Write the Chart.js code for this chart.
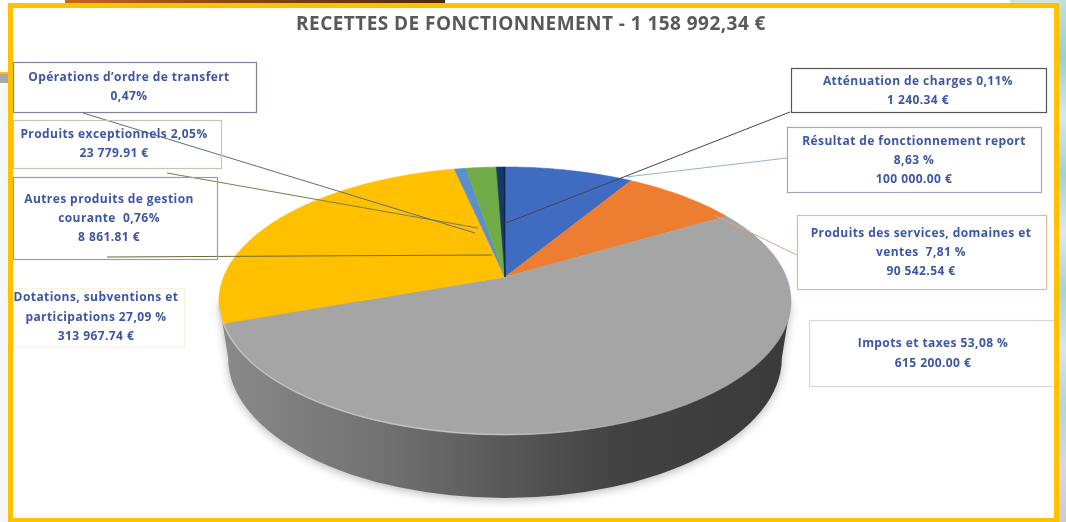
<!DOCTYPE html>
<html lang="fr">
<head>
<meta charset="utf-8">
<title>Recettes de fonctionnement</title>
<script src="https://cdn.jsdelivr.net/npm/chart.js@4"></script>
<style>
html,body{margin:0;padding:0;background:#fff;overflow:hidden}
#wrap{position:absolute;left:0;top:0;width:1066px;height:522px}
canvas{filter:blur(.65px)}
</style>
</head>
<body>
<div id="wrap"><canvas id="c" width="1066" height="522"></canvas></div>
<script>
const titleText = 'RECETTES DE FONCTIONNEMENT - 1 158 992,34 €';
const categories = ['Résultat de fonctionnement report','Produits des services, domaines et ventes','Impots et taxes','Dotations, subventions et participations','Autres produits de gestion courante','Produits exceptionnels','Opérations d’ordre de transfert','Atténuation de charges'];
const amounts = [100000.00, 90542.54, 615200.00, 313967.74, 8861.81, 23779.91, 5400.00, 1240.34];
const sliceColors = ['#3f6cc0','#ed7d31','#a5a5a5','#ffc000','#5b8fd0','#70ad47','#163a66','#0d2240'];

const calloutLines = [
  ['Résultat de fonctionnement report','8,63 %','100 000.00 €'],
  ['Produits des services, domaines et','ventes  7,81 %','90 542.54 €'],
  ['Impots et taxes 53,08 %','615 200.00 €'],
  ['Dotations, subventions et','participations 27,09 %','313 967.74 €'],
  ['Autres produits de gestion','courante  0,76%','8 861.81 €'],
  ['Produits exceptionnels 2,05%','23 779.91 €'],
  ['Opérations d’ordre de transfert','0,47%'],
  ['Atténuation de charges 0,11%','1 240.34 €']
];
// [left, top, right, bottom, text centre x, first line y, line step, border colour]
const calloutBoxes = [
  [787,127,1041,192,914,142,19,'#9aa9bc'],
  [797,215,1046,289,921,234,19,'#e3b79c'],
  [809,320,1055,386,933,344,20,'#d5d8db'],
  [13,288,184,347,96,298,19.5,'#f8f2de'],
  [13,177,217,259,109,200,19,'#8a9fc3'],
  [13,120,221,168,114,135,19,'#c3c8b2'],
  [13,62,256,112,129,78,19,'#7a8597'],
  [791,68,1046,112,918,82,19,'#555555']
];
// leader lines: x1,y1,x2,y2, colour
const leaders = [
  [787,158,626,177,'#8fb3d6'],
  [797,255,714,215,'#d9a583'],
  [107,257,492,255,'#6f6a3c'],
  [167,173,478,228,'#7b7a50'],
  [83,113,475,233,'#5f6d80'],
  [790,112,506,223,'#3f4650']
];

// perspective of the pie's top face
const K = 0.179, SX = 2.558, SY = 1.179;
const DEPTH = 57, BOTTOM_SHRINK = 0.968, BOTTOM_RY = 1.045;
function project(el, a, R){
  const x = Math.cos(a), y = Math.sin(a), w = 1 - K * y;
  return [el.x + SX * R * x / w, el.y + SY * R * y / w];
}
function faceEllipse(el, R){
  const q = 1 - K * K;
  return {cx: el.x, cy: el.y + SY * R * K / q, rx: SX * R / Math.sqrt(q), ry: SY * R / q};
}
// arcs are drawn in perspective from the angles Chart.js computed
Chart.ArcElement.prototype.draw = function(ctx){
  const p = this.getProps(['x','y','startAngle','endAngle','outerRadius'], true);
  const steps = Math.max(4, Math.ceil((p.endAngle - p.startAngle) * 60));
  ctx.save();
  ctx.beginPath();
  ctx.moveTo(p.x, p.y);
  for (let i = 0; i <= steps; i++) {
    const a = p.startAngle + (p.endAngle - p.startAngle) * i / steps;
    const q = project(p, a, p.outerRadius);
    ctx.lineTo(q[0], q[1]);
  }
  ctx.closePath();
  ctx.fillStyle = this.options.backgroundColor;
  ctx.strokeStyle = this.options.backgroundColor;
  ctx.lineWidth = 0.6;
  ctx.fill();
  ctx.stroke();
  ctx.restore();
};

const deco = {
  id: 'deco',
  beforeDraw(chart){
    const c = chart.ctx;
    c.save();
    c.fillStyle = '#fff'; c.fillRect(0,0,1066,522);
    // page behind the framed picture
    c.fillStyle = '#f6f8f8'; c.fillRect(0,78,8,444);
    c.fillStyle = '#ffc000'; c.fillRect(0,72,8,2);
    c.fillStyle = '#a9a9a9'; c.fillRect(0,74,8,9);
    const g = c.createLinearGradient(0,0,0,522);
    ['#bfe0da','#9fcfc8','#d8e8e5','#a5d2cb','#dfe9e7','#a9d3cd','#d9e6e4','#b5d6d1','#d5dada','#c9cccc'].forEach((s,i)=>g.addColorStop(i/9,s));
    c.fillStyle = g; c.fillRect(1059,0,7,522);
    const b = c.createLinearGradient(65,0,445,0);
    b.addColorStop(0,'#c8651c'); b.addColorStop(.4,'#8a4a14'); b.addColorStop(1,'#4a2a0c');
    c.fillStyle = b; c.fillRect(65,0,380,3);
    c.fillStyle = '#cfe6e0'; c.fillRect(1010,0,49,3);
    c.restore();
  },
  beforeDatasetsDraw(chart){
    const el = chart.getDatasetMeta(0).data[0], c = chart.ctx;
    const p = el.getProps(['x','y','outerRadius'], true);
    const t = faceEllipse(p, p.outerRadius);
    const bx = t.rx * BOTTOM_SHRINK, by = t.ry * BOTTOM_RY, bc = t.cy + DEPTH;
    const g = c.createLinearGradient(t.cx - t.rx, 0, t.cx + t.rx, 0);
    g.addColorStop(0,'#8a8a8a'); g.addColorStop(.3,'#707070');
    g.addColorStop(.5,'#585858'); g.addColorStop(.7,'#424242'); g.addColorStop(1,'#3a3a3a');
    c.save();
    c.shadowColor = 'rgba(0,0,0,.28)'; c.shadowBlur = 10; c.shadowOffsetY = 2;
    c.fillStyle = g;
    c.beginPath();
    c.moveTo(t.cx - t.rx, t.cy);
    c.lineTo(t.cx - bx, bc);
    c.ellipse(t.cx, bc, bx, by, 0, Math.PI, 0, true);
    c.lineTo(t.cx + t.rx, t.cy);
    c.closePath();
    c.fill();
    c.restore();
  },
  afterDatasetsDraw(chart){
    const el = chart.getDatasetMeta(0).data[0], c = chart.ctx;
    const p = el.getProps(['x','y','outerRadius'], true);
    const t = faceEllipse(p, p.outerRadius);
    const g = c.createLinearGradient(t.cx - t.rx, 0, t.cx + t.rx, 0);
    g.addColorStop(0,'rgba(205,205,205,.75)'); g.addColorStop(.5,'rgba(200,200,200,.8)');
    g.addColorStop(.72,'rgba(190,190,190,.25)'); g.addColorStop(1,'rgba(170,170,170,.0)');
    c.save();
    c.strokeStyle = g; c.lineWidth = 1.4;
    c.beginPath();
    c.ellipse(t.cx, t.cy, t.rx - .5, t.ry - .5, 0, 0, Math.PI * .98);
    c.stroke();
    // leader lines
    c.lineWidth = 1;
    leaders.forEach(l => {
      c.strokeStyle = l[4];
      c.beginPath(); c.moveTo(l[0],l[1]); c.lineTo(l[2],l[3]); c.stroke();
    });
    // callouts
    calloutBoxes.forEach((b,i) => {
      c.strokeStyle = b[7]; c.lineWidth = 1.2;
      c.strokeRect(b[0]+.5,b[1]+.5,b[2]-b[0],b[3]-b[1]);
      c.fillStyle = '#3c56a6';
      c.font = 'bold 12px "Open Sans"';
      c.letterSpacing = '0.42px';
      c.textAlign = 'center'; c.textBaseline = 'middle';
      calloutLines[i].forEach((s,j) => c.fillText(s, b[4], b[5] + j * b[6]));
    });
    // title
    c.fillStyle = '#595959';
    c.font = 'bold 19px "Open Sans"';
    c.letterSpacing = '0.45px';
    c.textAlign = 'center'; c.textBaseline = 'middle';
    c.fillText(titleText, 531, 25);
    c.letterSpacing = '0px';
    // frame
    c.strokeStyle = '#ffc000'; c.lineWidth = 5;
    c.strokeRect(10.5,5.5,1046,515);
    c.restore();
  }
};

new Chart(document.getElementById('c'), {
  type: 'pie',
  data: { labels: categories, datasets: [{ data: amounts, backgroundColor: sliceColors, borderWidth: 0 }] },
  options: {
    responsive: false,
    animation: false,
    events: [],
    layout: { padding: { left: 395, right: 451, top: 167, bottom: 135 } },
    plugins: { legend: { display: false }, tooltip: { enabled: false } }
  },
  plugins: [deco]
});
</script>
</body>
</html>
